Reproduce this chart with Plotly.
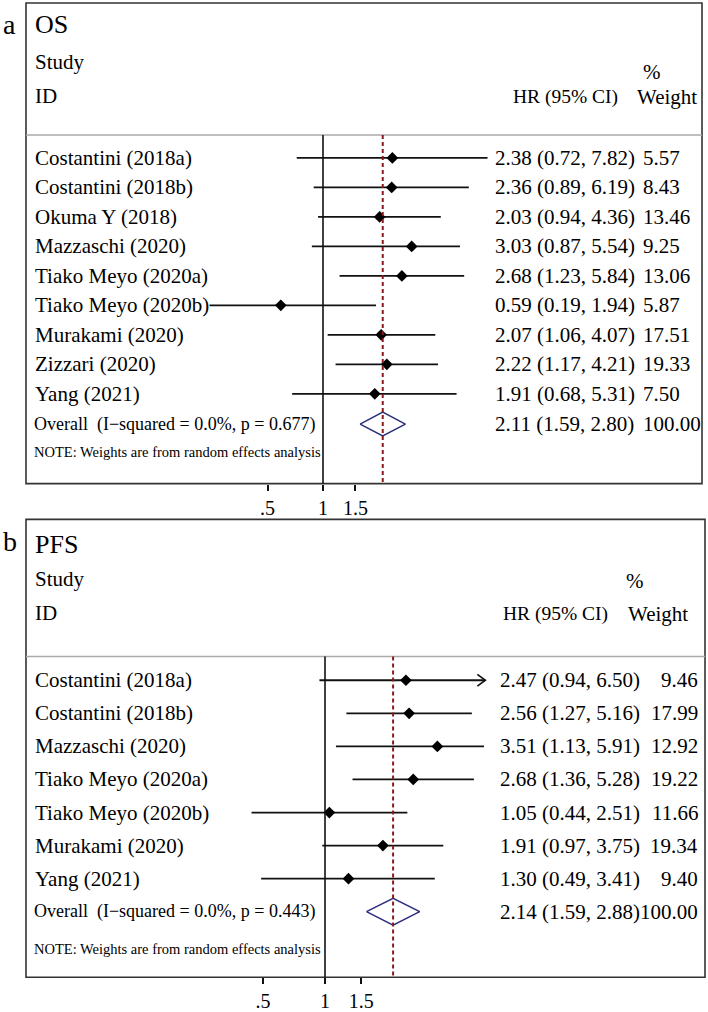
import math
import plotly.graph_objects as go

W, H = 708, 1012
FONT = "Liberation Serif"

# ---------------- data ----------------
os_studies = ["Costantini (2018a)", "Costantini (2018b)", "Okuma Y (2018)", "Mazzaschi (2020)",
              "Tiako Meyo (2020a)", "Tiako Meyo (2020b)", "Murakami (2020)", "Zizzari (2020)", "Yang (2021)"]
os_hr = [2.38, 2.36, 2.03, 3.03, 2.68, 0.59, 2.07, 2.22, 1.91]
os_lo = [0.72, 0.89, 0.94, 0.87, 1.23, 0.19, 1.06, 1.17, 0.68]
os_hi = [7.82, 6.19, 4.36, 5.54, 5.84, 1.94, 4.07, 4.21, 5.31]
os_w = [5.57, 8.43, 13.46, 9.25, 13.06, 5.87, 17.51, 19.33, 7.50]
os_overall = [2.11, 1.59, 2.80]
os_i2 = 0.0
os_p = 0.677

pfs_studies = ["Costantini (2018a)", "Costantini (2018b)", "Mazzaschi (2020)", "Tiako Meyo (2020a)",
               "Tiako Meyo (2020b)", "Murakami (2020)", "Yang (2021)"]
pfs_hr = [2.47, 2.56, 3.51, 2.68, 1.05, 1.91, 1.30]
pfs_lo = [0.94, 1.27, 1.13, 1.36, 0.44, 0.97, 0.49]
pfs_hi = [6.50, 5.16, 5.91, 5.28, 2.51, 3.75, 3.41]
pfs_w = [9.46, 17.99, 12.92, 19.22, 11.66, 19.34, 9.40]
pfs_overall = [2.14, 1.59, 2.88]
pfs_i2 = 0.0
pfs_p = 0.443

tick_vals = [0.5, 1, 1.5]
tick_text = [".5", "1", "1.5"]
note_text = "NOTE: Weights are from random effects analysis"

# ---------------- layout of the two panels ----------------
panels = [
    dict(letter="a", title="OS", studies=os_studies, hr=os_hr, lo=os_lo, hi=os_hi, w=os_w,
         overall=os_overall, i2=os_i2, p=os_p, axis="x", axname="xaxis",
         one_px=323, k=80.0, clip=None,
         frame=(26, 3, 702, 487), sep=136,
         letter_y=25, title_y=25, study_y=62, id_y=97, pct_y=72, hdr_y=98,
         row0=159, dy=29.7, overall_y=427, note_y=455, dh=12,
         hr_x=494, w_x=642, w_anchor="left",
         hdr_hr_x=619, weight_x=636, pct_x=652),
    dict(letter="b", title="PFS", studies=pfs_studies, hr=pfs_hr, lo=pfs_lo, hi=pfs_hi, w=pfs_w,
         overall=pfs_overall, i2=pfs_i2, p=pfs_p, axis="x2", axname="xaxis2",
         one_px=325, k=89.5, clip=6.0,
         frame=(26, 523, 705, 984), sep=661,
         letter_y=545, title_y=548, study_y=583, id_y=617, pct_y=585, hdr_y=618,
         row0=685, dy=33.3, overall_y=918, note_y=956, dh=13.5,
         hr_x=499, w_x=699, w_anchor="right",
         hdr_hr_x=609, weight_x=627, pct_x=635),
]

fig = go.Figure()
shapes = []
annotations = []
L10E = math.log10(math.e)


def px(v):
    return v / W


def ann(text, x, y, size, anchor="left", bg=None, color="#000"):
    d = dict(text=text, x=px(x), y=y, xref="paper", yref="y", showarrow=False,
             xanchor=anchor, yanchor="middle", font=dict(family=FONT, size=size, color=color),
             borderpad=0)
    if bg:
        d["bgcolor"] = bg
    annotations.append(d)


layout_axes = {}
for P in panels:
    ax = P["axis"]
    x0f, y0f, x1f, y1f = P["frame"]
    n = len(P["studies"])
    ys = [P["row0"] + i * P["dy"] for i in range(n)]
    k_px = P["k"]

    # axis (log scale): pixel = one_px + k * ln(HR)
    rng = [L10E * (0 - P["one_px"]) / k_px, L10E * (W - P["one_px"]) / k_px]
    layout_axes[P["axname"]] = dict(
        type="log", range=rng, domain=[0, 1], anchor="free", position=1 - y1f / H,
        tickvals=tick_vals, ticktext=tick_text, ticks="outside", ticklen=6, tickwidth=1.5,
        tickcolor="#111", showgrid=False, zeroline=False, showline=False,
        tickfont=dict(family=FONT, size=20, color="#000"), fixedrange=True)

    # frame & separator
    shapes.append(dict(type="rect", xref="paper", yref="y", x0=px(x0f), x1=px(x1f), y0=y0f, y1=y1f,
                       line=dict(color="#333", width=1.6), fillcolor="rgba(0,0,0,0)"))
    shapes.append(dict(type="line", xref="paper", yref="y", x0=px(x0f), x1=px(x1f), y0=P["sep"], y1=P["sep"],
                       line=dict(color="#aaaaaa", width=1.5)))
    # null line at HR = 1
    shapes.append(dict(type="line", xref=ax, yref="y", x0=1, x1=1, y0=P["sep"], y1=y1f,
                       line=dict(color="#111", width=1.6)))
    # overall effect dashed line
    ov, ovlo, ovhi = P["overall"]
    shapes.append(dict(type="line", xref=ax, yref="y", x0=ov, x1=ov, y0=P["sep"], y1=y1f,
                       line=dict(color="#8b1a1a", width=2, dash="4px,3px")))

    # CI lines (clipped at axis max if needed)
    cx, cy = [], []
    chev_x, chev_y = [], []
    for lo, hi, y in zip(P["lo"], P["hi"], ys):
        top = hi
        if P["clip"] is not None and hi > P["clip"]:
            top = P["clip"]
            back = top * math.exp(-8.0 / k_px)
            chev_x += [back, top, back, None]
            chev_y += [y - 6, y, y + 6, None]
        cx += [lo, top, None]
        cy += [y, y, None]
    fig.add_trace(go.Scatter(x=cx, y=cy, mode="lines", xaxis=ax, yaxis="y",
                             line=dict(color="#111", width=1.8), hoverinfo="skip", showlegend=False))
    if chev_x:
        fig.add_trace(go.Scatter(x=chev_x, y=chev_y, mode="lines", xaxis=ax, yaxis="y",
                                 line=dict(color="#111", width=1.6), hoverinfo="skip", showlegend=False))
    # point estimates
    fig.add_trace(go.Scatter(x=P["hr"], y=ys, mode="markers", xaxis=ax, yaxis="y",
                             marker=dict(symbol="diamond", size=9, color="#000"),
                             hoverinfo="skip", showlegend=False))
    # overall diamond
    yo, dh = P["overall_y"], P["dh"]
    fig.add_trace(go.Scatter(x=[ovlo, ov, ovhi, ov, ovlo], y=[yo, yo - dh, yo, yo + dh, yo],
                             mode="lines", xaxis=ax, yaxis="y",
                             line=dict(color="#2b2d7c", width=1.5), hoverinfo="skip", showlegend=False))

    # texts
    ann(P["letter"], 2, P["letter_y"], 28)
    ann(P["title"], 34, P["title_y"], 26)
    ann("Study", 34, P["study_y"], 21)
    ann("ID", 34, P["id_y"], 21)
    ann("%", P["pct_x"], P["pct_y"], 21, anchor="center")
    ann("HR (95% CI)", P["hdr_hr_x"], P["hdr_y"], 19.5, anchor="right")
    ann("Weight", P["weight_x"], P["hdr_y"], 21)
    for s, hr, lo, hi, w, y in zip(P["studies"], P["hr"], P["lo"], P["hi"], P["w"], ys):
        ann(s, 34, y, 21, bg="white")
        ann(f"{hr:.2f} ({lo:.2f}, {hi:.2f})", P["hr_x"], y, 21)
        ann(f"{w:.2f}", P["w_x"], y, 21, anchor=P["w_anchor"])
    ann(f"Overall  (I\u2212squared = {P['i2']:.1f}%, p = {P['p']:.3f})", 33, yo, 18)
    ann(f"{ov:.2f} ({ovlo:.2f}, {ovhi:.2f})", P["hr_x"], yo, 21)
    ann(f"{100:.2f}", P["w_x"], yo, 21, anchor=P["w_anchor"])
    ann(note_text, 33, P["note_y"], 14.5)

fig.update_layout(
    width=W, height=H, margin=dict(l=0, r=0, t=0, b=0),
    paper_bgcolor="white", plot_bgcolor="rgba(0,0,0,0)",
    yaxis=dict(range=[H, 0], domain=[0, 1], visible=False, fixedrange=True),
    shapes=shapes, annotations=annotations, showlegend=False,
    **layout_axes,
)

fig.write_html("out.html", config={"displayModeBar": False},
               post_script="document.body.style.margin='0';")
